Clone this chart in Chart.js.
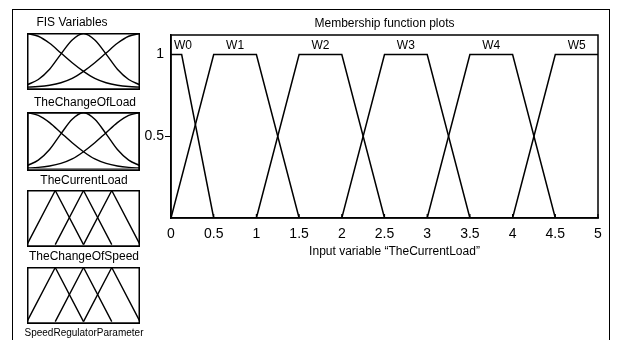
<!DOCTYPE html>
<html>
<head>
<meta charset="utf-8">
<script src="https://cdn.jsdelivr.net/npm/chart.js@4/dist/chart.umd.min.js"></script>
<style>
  body { margin: 0; background: #fff; font-family: "Liberation Sans", Arial, sans-serif; }
  #wrap { position: relative; width: 622px; height: 340px; overflow: hidden; }
  #frame { position: absolute; left: 12px; top: 9px; width: 598px; height: 400px; border: 1px solid #000; box-sizing: border-box; }
  canvas { position: absolute; }
  .lbl { position: absolute; font-size: 12px; color: #000; white-space: nowrap; transform: translateX(-50%); line-height: 14px; }
</style>
</head>
<body>
<div id="wrap">
  <div id="frame"></div>
  <canvas id="mfChart" width="622" height="340" style="left:0;top:0"></canvas>
  <div class="lbl" style="left:72px;top:15px">FIS Variables</div>
  <canvas id="var0" width="113" height="57" style="left:27px;top:33px"></canvas>
  <div class="lbl" style="left:85px;top:95px">TheChangeOfLoad</div>
  <canvas id="var1" width="113" height="59" style="left:27px;top:112px"></canvas>
  <div class="lbl" style="left:84px;top:173px">TheCurrentLoad</div>
  <canvas id="var2" width="113" height="57" style="left:27px;top:190px"></canvas>
  <div class="lbl" style="left:84px;top:249px">TheChangeOfSpeed</div>
  <canvas id="var3" width="113" height="57" style="left:27px;top:267px"></canvas>
  <div class="lbl" style="left:84px;top:326px;font-size:10px">SpeedRegulatorParameter</div>
</div>
<script>
// membership functions of "TheCurrentLoad"
const mfNames = ["W0", "W1", "W2", "W3", "W4", "W5"];
const mfX = [
  [0, 0.125, 0.5],
  [0, 0.5, 1, 1.5],
  [1, 1.5, 2, 2.5],
  [2, 2.5, 3, 3.5],
  [3, 3.5, 4, 4.5],
  [4, 4.5, 5]
];
const mfY = [
  [1, 1, 0],
  [0, 1, 1, 0],
  [0, 1, 1, 0],
  [0, 1, 1, 0],
  [0, 1, 1, 0],
  [0, 1, 1]
];
const xTicks = [0, 0.5, 1, 1.5, 2, 2.5, 3, 3.5, 4, 4.5, 5];
const yTicks = [0.5, 1];

// thumbnails of the FIS variables
const gaussX = [0, 0.1, 0.2, 0.3, 0.4, 0.5, 0.6, 0.7, 0.8, 0.9, 1];
const gaussLow = [1, 0.95, 0.82, 0.64, 0.46, 0.3, 0.17, 0.09, 0.044, 0.019, 0.008];
const gaussMid = [0.05, 0.15, 0.34, 0.62, 0.88, 1, 0.88, 0.62, 0.34, 0.15, 0.05];
const gaussHigh = [0.008, 0.019, 0.044, 0.09, 0.17, 0.3, 0.46, 0.64, 0.82, 0.95, 1];
const triX = [
  [0, 0.25, 0.5],
  [0.25, 0.5, 0.75],
  [0.5, 0.75, 1]
];
const triY = [0, 1, 0];

const font = "'Liberation Sans', Arial, sans-serif";

const toPoints = (xs, ys) => xs.map((x, i) => ({ x: x, y: ys[i] }));

// box round the plot area plus inward x ticks
const plotBox = {
  id: "plotBox",
  afterDraw(chart) {
    const { ctx, chartArea: a, scales } = chart;
    ctx.save();
    ctx.strokeStyle = "#000";
    ctx.lineWidth = 1.5;
    ctx.strokeRect(a.left, a.top, a.right - a.left, a.bottom - a.top);
    ctx.lineWidth = 1.2;
    xTicks.forEach(v => {
      const px = scales.x.getPixelForValue(v);
      ctx.beginPath();
      ctx.moveTo(px, a.bottom);
      ctx.lineTo(px, a.bottom - 4);
      ctx.stroke();
    });
    ctx.restore();
  }
};

// mf names above each plateau, plus title and axis label
const mfLabels = {
  id: "mfLabels",
  afterDraw(chart) {
    const { ctx, chartArea: a, scales } = chart;
    ctx.save();
    ctx.fillStyle = "#000";
    ctx.textAlign = "center";
    ctx.textBaseline = "middle";
    ctx.font = "12px " + font;
    chart.data.datasets.forEach((ds, i) => {
      const top = mfX[i].filter((x, j) => mfY[i][j] === 1);
      const cx = top.reduce((s, x) => s + x, 0) / top.length;
      const half = ctx.measureText(mfNames[i]).width / 2;
      const px = Math.max(scales.x.getPixelForValue(cx), a.left + half + 3);
      ctx.fillText(mfNames[i], px, scales.y.getPixelForValue(1.057));
    });
    const mid = (a.left + a.right) / 2;
    ctx.fillText("Membership function plots", mid, 24);
    ctx.fillText("Input variable \u201CTheCurrentLoad\u201D", mid + 10, 252);
    ctx.restore();
  }
};

new Chart(document.getElementById("mfChart"), {
  type: "line",
  data: {
    datasets: mfNames.map((name, i) => ({
      label: name,
      data: toPoints(mfX[i], mfY[i]),
      borderColor: "#000",
      borderWidth: 1.5,
      pointRadius: 0,
      tension: 0
    }))
  },
  options: {
    responsive: false,
    animation: false,
    events: [],
    layout: { padding: { left: 141, top: 35, right: 24, bottom: 92 } },
    plugins: { legend: { display: false }, tooltip: { enabled: false } },
    scales: {
      x: {
        type: "linear",
        min: 0,
        max: 5,
        afterBuildTicks: s => { s.ticks = xTicks.map(v => ({ value: v })); },
        afterFit: s => { s.height = 30; },
        ticks: { color: "#000", font: { size: 14, family: font }, padding: 8, maxRotation: 0, callback: v => String(v) },
        grid: { drawOnChartArea: false, drawTicks: false },
        border: { color: "#000", width: 1.5 }
      },
      y: {
        min: 0,
        max: 1.12,
        afterBuildTicks: s => { s.ticks = yTicks.map(v => ({ value: v })); },
        afterFit: s => { s.width = 30; },
        ticks: { color: "#000", font: { size: 14, family: font }, padding: 1, callback: v => String(v) },
        grid: {
          drawOnChartArea: false,
          tickLength: 6,
          tickColor: c => (c.tick && c.tick.value === 1 ? "rgba(0,0,0,0)" : "#000")
        },
        border: { color: "#000", width: 1.5 }
      }
    }
  },
  plugins: [plotBox, mfLabels]
});

// thin frame and zero line of each thumbnail
const thumbFrame = {
  id: "thumbFrame",
  afterDraw(chart) {
    const { ctx, width, height, scales } = chart;
    ctx.save();
    ctx.strokeStyle = "#888";
    ctx.lineWidth = 1;
    const y0 = Math.round(scales.y.getPixelForValue(0)) + 0.5;
    ctx.beginPath();
    ctx.moveTo(0, y0);
    ctx.lineTo(width, y0);
    ctx.stroke();
    ctx.strokeStyle = "#000";
    ctx.lineWidth = chart.options.frameWidth || 1.5;
    ctx.strokeRect(0.75, 0.75, width - 1.5, height - 1.5);
    ctx.restore();
  }
};

const drawVariable = (id, xs, ys, smooth, frameWidth) => new Chart(document.getElementById(id), {
  type: "line",
  data: {
    datasets: ys.map((y, i) => ({
      data: toPoints(xs[i], y),
      borderColor: "#000",
      borderWidth: 1.4,
      pointRadius: 0,
      cubicInterpolationMode: smooth ? "monotone" : "default",
      tension: smooth ? 0.4 : 0
    }))
  },
  options: {
    responsive: false,
    animation: false,
    events: [],
    frameWidth: frameWidth,
    layout: { padding: 0 },
    plugins: { legend: { display: false }, tooltip: { enabled: false } },
    scales: {
      x: { type: "linear", display: false, min: 0, max: 1 },
      y: { display: false, min: -0.045, max: 1.01 }
    }
  },
  plugins: [thumbFrame]
});

const gaussSet = [gaussLow, gaussMid, gaussHigh];
drawVariable("var0", [gaussX, gaussX, gaussX], gaussSet, true, 1.5);
drawVariable("var1", [gaussX, gaussX, gaussX], gaussSet, true, 2);
drawVariable("var2", triX, [triY, triY, triY], false, 1.5);
drawVariable("var3", triX, [triY, triY, triY], false, 1.5);
</script>
</body>
</html>
